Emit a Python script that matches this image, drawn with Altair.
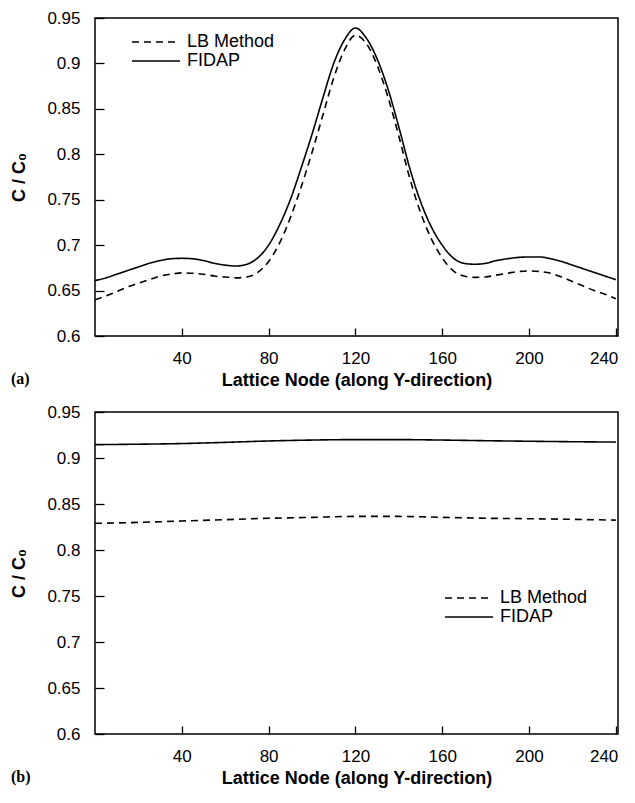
import altair as alt
import pandas as pd

# ---------------- data ----------------
series_names = ["LB Method", "FIDAP"]

x_top = [0, 5, 10, 15, 20, 25, 30, 35, 40, 45, 50, 55, 60, 65, 70, 75, 80, 85, 90, 95,
         100, 105, 110, 115, 120, 125, 130, 135, 140, 145, 150, 155, 160, 165, 170, 175,
         180, 185, 190, 195, 200, 205, 210, 215, 220, 225, 230, 235, 240]
fidap_top = [0.661, 0.664, 0.668, 0.672, 0.676, 0.680, 0.683, 0.685, 0.6855, 0.685, 0.683,
             0.680, 0.678, 0.677, 0.679, 0.686, 0.700, 0.722, 0.750, 0.785, 0.822, 0.862,
             0.900, 0.926, 0.939, 0.928, 0.905, 0.872, 0.830, 0.785, 0.748, 0.720, 0.700,
             0.686, 0.680, 0.679, 0.680, 0.683, 0.685, 0.6865, 0.687, 0.687, 0.685, 0.682,
             0.678, 0.674, 0.670, 0.666, 0.662]
lb_top = [0.640, 0.644, 0.649, 0.654, 0.658, 0.662, 0.666, 0.668, 0.6695, 0.669, 0.668,
          0.666, 0.665, 0.664, 0.665, 0.670, 0.682, 0.702, 0.730, 0.764, 0.802, 0.843,
          0.884, 0.915, 0.931, 0.922, 0.898, 0.863, 0.820, 0.774, 0.736, 0.707, 0.686,
          0.672, 0.666, 0.6645, 0.665, 0.667, 0.669, 0.671, 0.6716, 0.671, 0.669, 0.665,
          0.660, 0.655, 0.650, 0.646, 0.641]

x_bot = [0, 20, 40, 60, 80, 100, 120, 140, 160, 180, 200, 220, 240]
fidap_bot = [0.9145, 0.9150, 0.9157, 0.9170, 0.9185, 0.9195, 0.9200, 0.9200, 0.9195,
             0.9188, 0.9182, 0.9177, 0.9173]
lb_bot = [0.8290, 0.8300, 0.8315, 0.8330, 0.8345, 0.8355, 0.8365, 0.8365, 0.8355,
          0.8345, 0.8340, 0.8333, 0.8325]

x_labels = [40, 80, 120, 160, 200, 240]
y_labels = [0.6, 0.65, 0.7, 0.75, 0.8, 0.85, 0.9, 0.95]

X_TITLE = "Lattice Node (along Y-direction)"
Y_TITLE = "C / C₀"


def long_df(xs, fidap, lb):
    rows = []
    for x, v in zip(xs, lb):
        rows.append({"x": x, "v": v, "series": "LB Method"})
    for x, v in zip(xs, fidap):
        rows.append({"x": x, "v": v, "series": "FIDAP"})
    return pd.DataFrame(rows)


W = 523
X_DOMAIN = [0, 241]
Y_DOMAIN = [0.6, 0.95]
DASH = alt.Scale(domain=series_names, range=[[7, 5], [1, 0]])


def panel(df, h, lx, ly, tag):
    lines = alt.Chart(df).mark_line(color="black", strokeWidth=1.6,
                                    interpolate="monotone").encode(
        x=alt.X("x:Q", scale=alt.Scale(domain=X_DOMAIN, nice=False, zero=False),
                axis=alt.Axis(orient="bottom", values=x_labels, title=X_TITLE,
                              ticks=True, tickSize=alt.ExprRef("-8"), zindex=1,
                              tickWidth=1.3, tickColor="black", labelPadding=22)),
        y=alt.Y("v:Q", scale=alt.Scale(domain=Y_DOMAIN, nice=False, zero=False),
                axis=alt.Axis(orient="left", values=y_labels, format=".2~f",
                              title=Y_TITLE, ticks=True, tickSize=alt.ExprRef("-9"),
                              zindex=1, tickWidth=1.3, tickColor="black",
                              labelPadding=24)),
        strokeDash=alt.StrokeDash("series:N", scale=DASH, legend=None),
        order=alt.Order("x:Q"),
    )

    # legend drawn as its own small layer (keys on a point scale)
    leg_df = pd.DataFrame({"series": series_names})
    leg_y = alt.Y("series:N", axis=None,
                  scale=alt.Scale(type="point", domain=series_names,
                                  range=[ly, ly + 19], padding=0))
    leg_rule = alt.Chart(leg_df).mark_rule(color="black", strokeWidth=1.5).encode(
        x=alt.value(lx), x2=alt.value(lx + 48), y=leg_y,
        strokeDash=alt.StrokeDash("series:N", scale=DASH, legend=None),
    )
    leg_text = alt.Chart(leg_df).mark_text(
        align="left", baseline="middle", font="Liberation Sans", fontSize=18,
        color="black").encode(
        x=alt.value(lx + 55), y=leg_y, text="series:N",
    )

    return alt.layer(lines, leg_rule, leg_text).resolve_scale(
        x="independent", y="independent", strokeDash="shared"
    ).properties(
        width=W, height=h,
        title=alt.TitleParams(tag, orient="bottom", anchor="start", frame="bounds",
                              font="Liberation Serif", fontWeight="bold", fontSize=16,
                              dy=-22, color="black"),
    )


top = panel(long_df(x_top, fidap_top, lb_top), 318, 37, 24, "(a)")
bottom = panel(long_df(x_bot, fidap_bot, lb_bot), 322, 350, 186, "(b)")

chart = alt.vconcat(top, bottom, spacing=12).properties(
    padding={"left": 2, "top": 0, "right": 0, "bottom": 0}
).configure_view(
    stroke="black", strokeWidth=1.5
).configure_axis(
    domain=False, grid=False,
    labelFont="Liberation Sans", labelFontSize=17, labelColor="black",
    titleFont="Liberation Sans", titleFontSize=18, titleFontWeight="bold",
    titleColor="black",
).configure_axisY(
    titlePadding=18,
).configure_axisX(
    titlePadding=5, labelFlush=3, labelFlushOffset=2,
)

chart.save("out.html", embed_options={"renderer": "svg", "actions": False})
